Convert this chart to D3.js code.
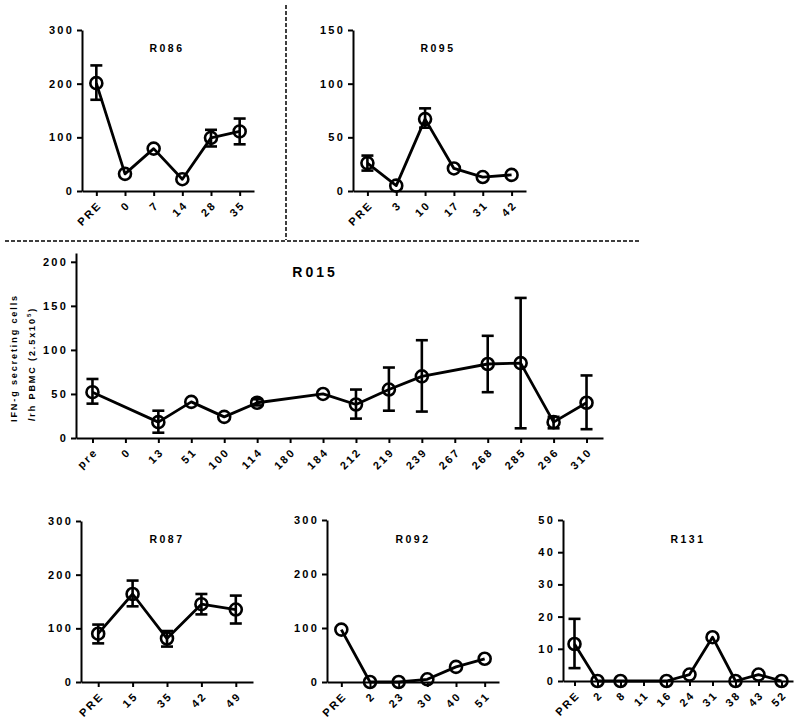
<!DOCTYPE html>
<html>
<head>
<meta charset="utf-8">
<title>IFN-g ELISPOT panels</title>
<script src="https://d3js.org/d3.v7.min.js"></script>
<style>
  body { margin: 0; background: #fff; }
  svg text { font-family: "Liberation Sans", Arial, sans-serif; font-weight: bold; fill: #000; }
  .tick text { font-size: 11px; letter-spacing: 2.2px; }
  .domain, .tick line { stroke: #000; stroke-width: 2px; }
</style>
</head>
<body>
<div id="chart"></div>
<script>
// values (null = no sample / no error bar)
const r086Days = ["PRE", "0", "7", "14", "28", "35"];
const r086Mean = [201, 32, 79, 22, 99, 111];
const r086Low  = [170, null, null, null, 83, 87];
const r086High = [234, null, null, null, 114, 135];

const r095Days = ["PRE", "3", "10", "17", "31", "42"];
const r095Mean = [26, 5, 67, 21, 13, 15];
const r095Low  = [19, null, 59, null, null, null];
const r095High = [33, null, 77, null, null, null];

const r015Days = ["pre", "0", "13", "51", "100", "114", "180", "184", "212", "219", "239", "267", "268", "285", "296", "310"];
const r015Mean = [52, null, 18, 41, 24, 40, null, 50, 38, 55, 70, null, 84, 85, 18, 40];
const r015Low  = [39, null, 6, null, null, 37, null, null, 22, 31, 30, null, 52, 11, 11, 10];
const r015High = [67, null, 31, null, null, 44, null, null, 55, 80, 111, null, 116, 159, 24, 71];

const r087Days = ["PRE", "15", "35", "42", "49"];
const r087Mean = [90, 164, 81, 145, 135];
const r087Low  = [72, 141, 66, 126, 109];
const r087High = [107, 189, 95, 164, 161];

const r092Days = ["PRE", "2", "23", "30", "40", "51"];
const r092Mean = [97, 0, 0, 5, 28, 43];

const r131Days = ["PRE", "2", "8", "11", "16", "24", "31", "38", "43", "52"];
const r131Mean = [11.5, 0, 0, null, 0, 2, 13.6, 0, 2, 0];
const r131Low  = [4, null, null, null, null, null, null, null, null, null];
const r131High = [19.3, null, null, null, null, null, null, null, null, null];

const width = 800, height = 722;

const panels = [
  {title: "R086", days: r086Days, mean: r086Mean, low: r086Low, high: r086High,
   ymax: 300, ticks: [0, 100, 200, 300], x0: 82, x1: 254, yTop: 30, yBot: 191, tx: 167, ty: 52, ts: 10.5},
  {title: "R095", days: r095Days, mean: r095Mean, low: r095Low, high: r095High,
   ymax: 150, ticks: [0, 50, 100, 150], x0: 353, x1: 526, yTop: 30, yBot: 191, tx: 438, ty: 52, ts: 10.5},
  {title: "R015", days: r015Days, mean: r015Mean, low: r015Low, high: r015High,
   ymax: 210, ticks: [0, 50, 100, 150, 200], x0: 76, x1: 603, yTop: 253, yBot: 438, tx: 315, ty: 277, ts: 14},
  {title: "R087", days: r087Days, mean: r087Mean, low: r087Low, high: r087High,
   ymax: 300, ticks: [0, 100, 200, 300], x0: 81, x1: 253, yTop: 521, yBot: 682, tx: 167, ty: 543, ts: 10.5},
  {title: "R092", days: r092Days, mean: r092Mean, low: null, high: null,
   ymax: 300, ticks: [0, 100, 200, 300], x0: 327, x1: 499, yTop: 520, yBot: 682, tx: 413, ty: 543, ts: 10.5},
  {title: "R131", days: r131Days, mean: r131Mean, low: r131Low, high: r131High,
   ymax: 50, ticks: [0, 10, 20, 30, 40, 50], x0: 563, x1: 793, yTop: 520, yBot: 681, tx: 688, ty: 543, ts: 10.5}
];

const svg = d3.select("#chart").append("svg")
  .attr("width", width)
  .attr("height", height);

// dashed separators
svg.append("line")
  .attr("x1", 286).attr("x2", 286).attr("y1", 5).attr("y2", 240)
  .attr("stroke", "#000").attr("stroke-width", 1.5).attr("stroke-dasharray", "4,2");
svg.append("line")
  .attr("x1", 5).attr("x2", 641).attr("y1", 241).attr("y2", 241)
  .attr("stroke", "#000").attr("stroke-width", 1.5).attr("stroke-dasharray", "4,2");

panels.forEach(p => {
  const x = d3.scalePoint().domain(p.days).range([p.x0, p.x1]).padding(0.5);
  const y = d3.scaleLinear().domain([0, p.ymax]).range([p.yBot, p.yTop]);
  const g = svg.append("g");

  g.append("g")
    .attr("transform", `translate(${p.x0},0)`)
    .call(d3.axisLeft(y).tickValues(p.ticks).tickSize(5).tickPadding(3).tickSizeOuter(0));

  const xa = g.append("g")
    .attr("transform", `translate(0,${p.yBot})`)
    .call(d3.axisBottom(x).tickSize(5).tickSizeOuter(0));
  xa.selectAll(".tick text")
    .attr("x", 0).attr("y", 0).attr("dy", "0.35em")
    .attr("text-anchor", "end")
    .attr("transform", "translate(3,12) rotate(-45)");

  g.append("text")
    .attr("x", p.tx).attr("y", p.ty)
    .attr("text-anchor", "middle")
    .style("font-size", p.ts + "px")
    .style("letter-spacing", (p.ts > 11 ? 3 : 2.5) + "px")
    .text(p.title);

  const pts = p.days.map((d, i) => ({
    day: d, v: p.mean[i],
    lo: p.low ? p.low[i] : null, hi: p.high ? p.high[i] : null
  })).filter(d => d.v != null);

  const line = d3.line().x(d => x(d.day)).y(d => y(d.v));
  g.append("path").datum(pts)
    .attr("d", line)
    .attr("fill", "none").attr("stroke", "#000").attr("stroke-width", 2.8)
    .attr("stroke-linejoin", "round");

  const eb = g.selectAll(".err").data(pts.filter(d => d.lo != null)).join("g");
  eb.append("line")
    .attr("x1", d => x(d.day)).attr("x2", d => x(d.day))
    .attr("y1", d => y(d.lo)).attr("y2", d => y(d.hi));
  eb.append("line")
    .attr("x1", d => x(d.day) - 6).attr("x2", d => x(d.day) + 6)
    .attr("y1", d => y(d.lo)).attr("y2", d => y(d.lo));
  eb.append("line")
    .attr("x1", d => x(d.day) - 6).attr("x2", d => x(d.day) + 6)
    .attr("y1", d => y(d.hi)).attr("y2", d => y(d.hi));
  eb.selectAll("line").attr("stroke", "#000").attr("stroke-width", 2.6);

  g.selectAll(".pt").data(pts).join("circle")
    .attr("cx", d => x(d.day)).attr("cy", d => y(d.v))
    .attr("r", 6)
    .attr("fill", "none").attr("stroke", "#000").attr("stroke-width", 2.6);
});

// shared y label on the middle panel
const yl = svg.append("g").style("font-size", "9px").style("letter-spacing", "1.9px");
yl.append("text")
  .attr("transform", "translate(17,358) rotate(-90)")
  .attr("text-anchor", "middle")
  .text("IFN-g secreting cells");
const yl2 = yl.append("text")
  .attr("transform", "translate(35,364) rotate(-90)")
  .attr("text-anchor", "middle");
yl2.append("tspan").text("/rh PBMC (2.5x10");
yl2.append("tspan").attr("dy", -4).style("font-size", "6px").text("5");
yl2.append("tspan").attr("dy", 4).text(")");
</script>
</body>
</html>
